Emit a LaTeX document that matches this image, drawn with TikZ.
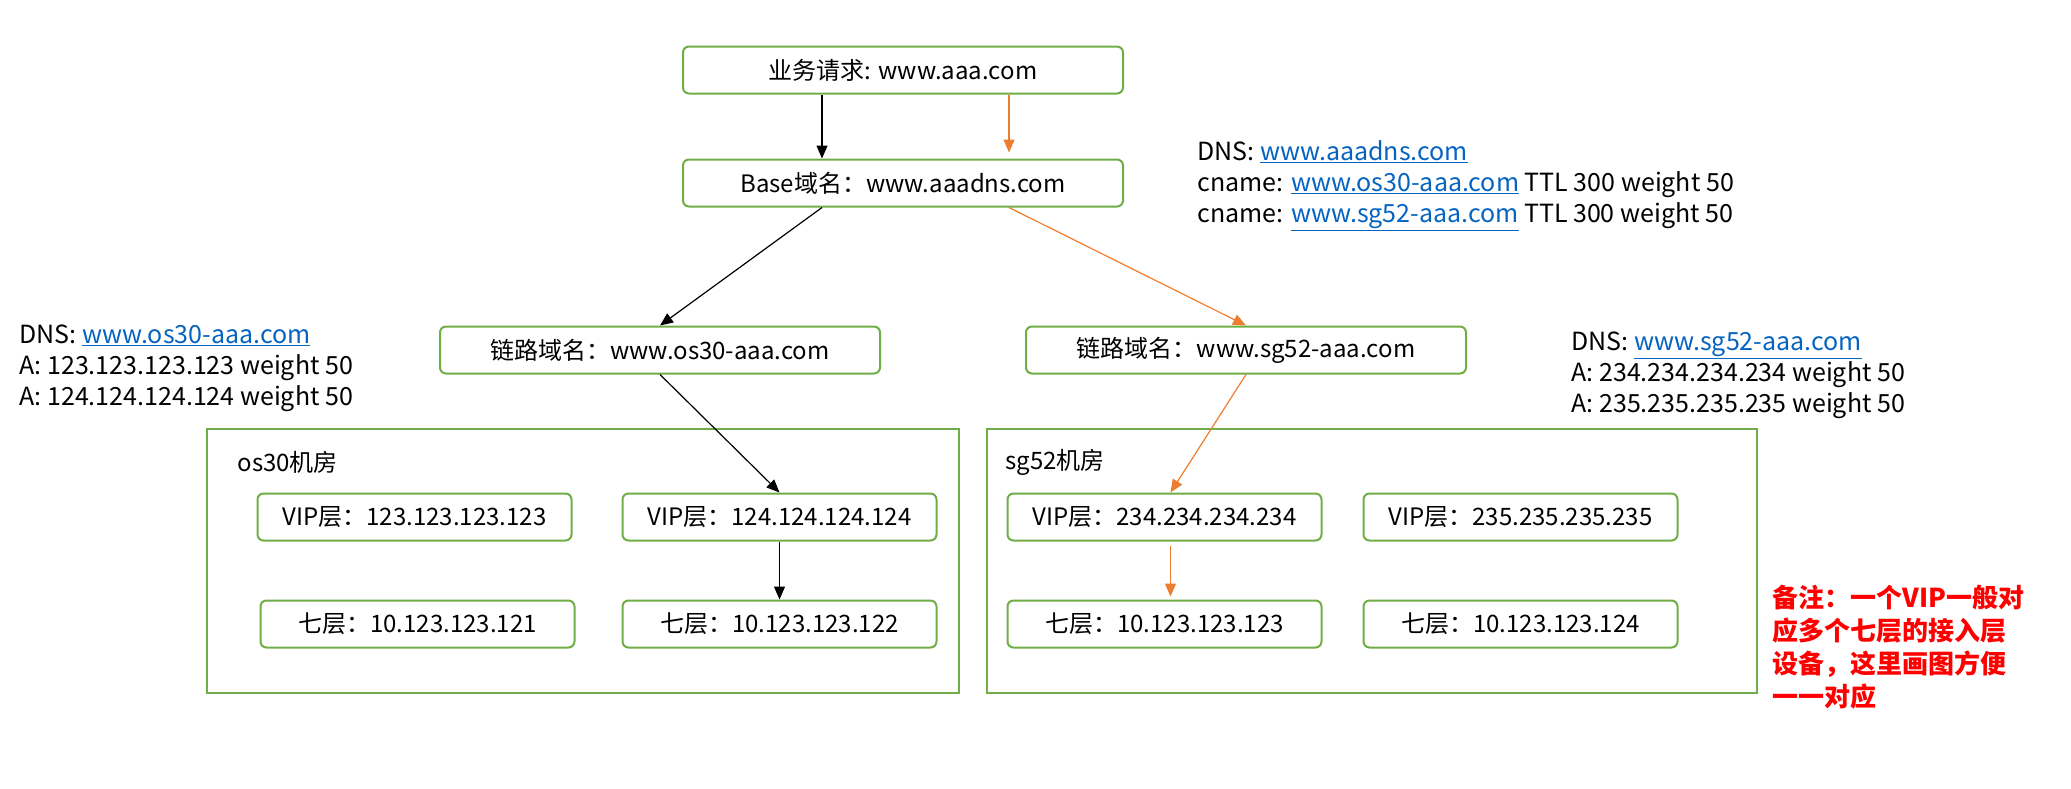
\documentclass[tikz,border=0pt]{standalone}
\usepackage{fontspec}
\setmainfont{Noto Sans CJK SC}
\usepackage{tikz}
\usetikzlibrary{arrows.meta}
\definecolor{boxgreen}{HTML}{70AD47}
\definecolor{arrorange}{HTML}{ED7D31}
\definecolor{linkblue}{HTML}{0563C1}
\newcommand{\dnslink}[1]{\textcolor{linkblue}{\underline{#1}}}
\tikzset{
  box/.style={draw=boxgreen, line width=2pt, rounded corners=6pt, minimum height=47pt, inner sep=0pt, font=\fontsize{24}{30}\selectfont},
  dnsbox/.style={box, minimum width=440pt},
  ipbox/.style={box, minimum width=314pt},
  room/.style={draw=boxgreen, line width=2.5pt},
  dnsnote/.style={align=left, font=\fontsize{25}{31}\selectfont},
  arr/.style={-{Triangle[length=13pt,width=11pt]}, line width=1.2pt},
  oarr/.style={arr, arrorange}
}

\begin{document}
\begin{tikzpicture}[x=1pt, y=-1pt]
    \useasboundingbox (0,0) rectangle (2071,788);

    \node [dnsbox] (req) at (903,70) {业务请求: www.aaa.com};
    \node [dnsbox] (base) at (903,183) {Base域名：www.aaadns.com};
    \node [dnsbox] (link1) at (660,350) {链路域名：www.os30-aaa.com};
    \node [dnsbox] (link2) at (1246,350) {链路域名：www.sg52-aaa.com};

    \node [dnsnote, anchor=west] (dnsbase) at (1194,186) {DNS: \dnslink{www.aaadns.com}\\cname: \dnslink{www.os30-aaa.com} TTL 300 weight 50\\cname: \dnslink{www.sg52-aaa.com} TTL 300 weight 50};
    \node [dnsnote, anchor=west] (dnsos) at (16,368) {DNS: \dnslink{www.os30-aaa.com}\\A: 123.123.123.123 weight 50\\A: 124.124.124.124 weight 50};
    \node [dnsnote, anchor=west] (dnssg) at (1568,375) {DNS: \dnslink{www.sg52-aaa.com}\\A: 234.234.234.234 weight 50\\A: 235.235.235.235 weight 50};

    \draw [room] (207,429) rectangle (959,693);
    \node [right, font=\fontsize{24}{30}\selectfont] (os) at (234,462) {os30机房};
    \draw [room] (987,429) rectangle (1757,693);
    \node [right, font=\fontsize{24}{30}\selectfont] (sg) at (1002,462) {sg52机房};

    \node [ipbox] (vip1) at (414.5,517) {VIP层：123.123.123.123};
    \node [ipbox] (vip2) at (779.5,517) {VIP层：124.124.124.124};
    \node [ipbox] (ng1) at (417.5,624) {七层：10.123.123.121};
    \node [ipbox] (ng2) at (779.5,624) {七层：10.123.123.122};
    \node [ipbox] (vip3) at (1164.5,517) {VIP层：234.234.234.234};
    \node [ipbox] (vip4) at (1520.5,517) {VIP层：235.235.235.235};
    \node [ipbox] (ng3) at (1164.5,624) {七层：10.123.123.123};
    \node [ipbox] (ng4) at (1520.5,624) {七层：10.123.123.124};

    \node [anchor=west, align=left, text=red, font=\fontsize{26}{33}\selectfont\bfseries] (remark) at (1769,647) {备注：一个VIP一般对\\应多个七层的接入层\\设备，这里画图方便\\一一对应};

    \draw [arr] ([xshift=-81pt]req.south) -- ([xshift=-81pt]base.north);
    \draw [oarr, shorten >=6pt] ([xshift=106pt]req.south) -- ([xshift=106pt]base.north);
    \draw [arr] ([xshift=-81pt]base.south) -- (link1.north);
    \draw [oarr] ([xshift=106pt]base.south) -- (link2.north);
    \draw [arr] (link1.south) -- (vip2.north);
    \draw [oarr] (link2.south) -- ([xshift=6pt]vip3.north);
    \draw [arr] (vip2.south) -- (ng2.north);
    \draw [oarr, shorten <=4pt, shorten >=3pt] ([xshift=6pt]vip3.south) -- ([xshift=6pt]ng3.north);
  \end{tikzpicture}
\end{document}
